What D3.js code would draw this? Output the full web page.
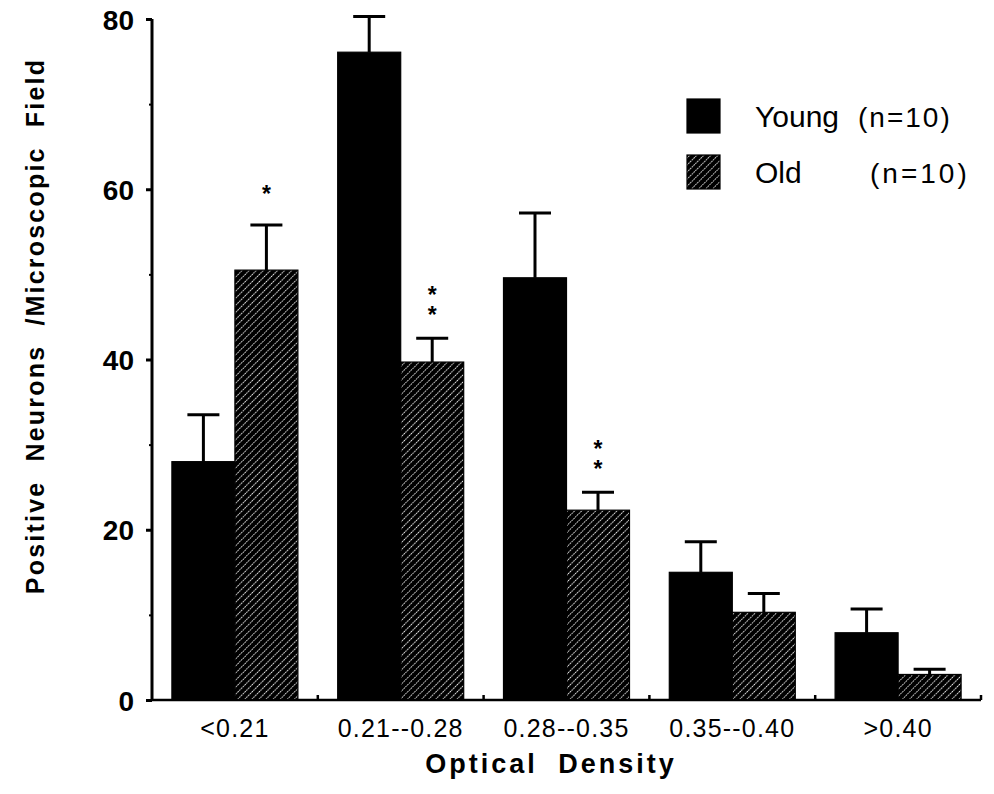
<!DOCTYPE html>
<html>
<head>
<meta charset="utf-8">
<script src="https://cdn.jsdelivr.net/npm/d3@7"></script>
<style>
  body { margin: 0; background: #fff; }
  svg { display: block; font-family: "Liberation Sans", Arial, Helvetica, sans-serif; }
</style>
</head>
<body>
<div id="chart"></div>
<script>
// values
const categories = ["<0.21", "0.21--0.28", "0.28--0.35", "0.35--0.40", ">0.40"];
const groups = ["Young", "Old"];
const youngMeans = [28.0, 76.1, 49.6, 15.0, 7.9];
const youngErrors = [5.5, 4.2, 7.6, 3.6, 2.8];
const oldMeans = [50.5, 39.7, 22.3, 10.3, 3.0];
const oldErrors = [5.3, 2.8, 2.1, 2.2, 0.6];
const significance = ["*", "**", "**", "", ""];
const legendCounts = ["(n=10)", "(n=10)"];
const yTicks = [0, 20, 40, 60, 80];
const yMinorTicks = [10, 30, 50, 70];

const width = 994;
const height = 794;
const margin = { top: 19, right: 13, bottom: 94, left: 152 };

const svg = d3.select("#chart").append("svg")
  .attr("width", width)
  .attr("height", height);

// hatch for the "Old" bars
const defs = svg.append("defs");
const hatch = defs.append("pattern")
  .attr("id", "hatch")
  .attr("patternUnits", "userSpaceOnUse")
  .attr("width", 5)
  .attr("height", 5)
  .attr("patternTransform", "rotate(45)");
hatch.append("rect").attr("width", 5).attr("height", 5).attr("fill", "#000");
hatch.append("line")
  .attr("x1", 2.5).attr("y1", 0).attr("x2", 2.5).attr("y2", 5)
  .attr("stroke", "#fff")
  .attr("stroke-width", 0.9)
  .attr("stroke-dasharray", "1.6 1");

const x = d3.scaleBand()
  .domain(categories)
  .range([margin.left, width - margin.right])
  .paddingInner(0.24)
  .paddingOuter(0.12);

const xSub = d3.scaleBand()
  .domain(groups)
  .range([0, x.bandwidth()]);

const y = d3.scaleLinear()
  .domain([0, 80])
  .range([height - margin.bottom, margin.top]);

const rows = categories.map((c, i) => [
  { cat: c, group: "Young", mean: youngMeans[i], err: youngErrors[i], sig: "" },
  { cat: c, group: "Old", mean: oldMeans[i], err: oldErrors[i], sig: significance[i] }
]).flat();

const fillFor = g => g === "Young" ? "#000" : "url(#hatch)";
const centerOf = d => x(d.cat) + xSub(d.group) + xSub.bandwidth() / 2;

// error bars (drawn first so bars cover the stem bottoms)
const err = svg.append("g").attr("stroke", "#000").attr("stroke-width", 3);
rows.forEach(d => {
  const cx = centerOf(d);
  err.append("line")
    .attr("x1", cx).attr("x2", cx)
    .attr("y1", y(d.mean)).attr("y2", y(d.mean + d.err));
  err.append("line")
    .attr("x1", cx - 16).attr("x2", cx + 16)
    .attr("y1", y(d.mean + d.err)).attr("y2", y(d.mean + d.err));
});

svg.append("g")
  .selectAll("rect")
  .data(rows)
  .join("rect")
  .attr("x", d => x(d.cat) + xSub(d.group))
  .attr("y", d => y(d.mean))
  .attr("width", xSub.bandwidth())
  .attr("height", d => y(0) - y(d.mean))
  .attr("fill", d => fillFor(d.group))
  .attr("stroke", "#000")
  .attr("stroke-width", 1.2);

// significance stars, stacked vertically as one text run
svg.append("g")
  .attr("font-size", 23)
  .attr("font-weight", "bold")
  .selectAll("text")
  .data(rows.filter(d => d.sig))
  .join("text")
  .style("writing-mode", "vertical-rl")
  .style("text-orientation", "upright")
  .attr("letter-spacing", "-6px")
  .attr("text-anchor", "end")
  .attr("x", d => centerOf(d))
  .attr("y", d => y(d.mean + d.err) - (d.sig.length === 1 ? 24 : 16))
  .text(d => d.sig);

// y axis
const yAxis = svg.append("g")
  .attr("transform", `translate(${margin.left},0)`)
  .call(d3.axisLeft(y).tickValues(yTicks).tickSize(6).tickPadding(12));
yAxis.select(".domain").attr("stroke-width", 3).attr("d", `M0,${y(80)}V${y(0)}`);
yAxis.selectAll(".tick line").attr("stroke-width", 3);
yAxis.selectAll(".tick text")
  .attr("font-size", 28)
  .attr("font-weight", "bold")
  .attr("font-family", "Liberation Sans, Arial, sans-serif")
  .attr("dy", "0.36em")
  .attr("fill", "#000");

const yMinor = svg.append("g")
  .attr("transform", `translate(${margin.left},0)`)
  .call(d3.axisLeft(y).tickValues(yMinorTicks).tickSize(3).tickFormat(""));
yMinor.select(".domain").remove();
yMinor.selectAll(".tick line").attr("stroke-width", 2);

// x axis
const xAxis = svg.append("g")
  .attr("transform", `translate(0,${y(0)})`)
  .call(d3.axisBottom(x).tickSize(0).tickPadding(20));
xAxis.select(".domain").attr("stroke-width", 2.5)
  .attr("d", `M${margin.left},0H${width - margin.right}`);
xAxis.selectAll(".tick text")
  .attr("font-size", 25)
  .attr("font-family", "Liberation Sans, Arial, sans-serif")
  .attr("letter-spacing", "1.2px")
  .attr("dy", "0.68em")
  .attr("fill", "#000");

// small upward ticks at the category boundaries
const boundaries = categories.map(c => x(c) + x.bandwidth() + x.step() * x.paddingOuter());
svg.append("g")
  .selectAll("line")
  .data(boundaries)
  .join("line")
  .attr("x1", d => d).attr("x2", d => d)
  .attr("y1", y(0)).attr("y2", y(0) - 5)
  .attr("stroke", "#000")
  .attr("stroke-width", 2.5);

// axis titles
svg.append("text")
  .attr("x", 551)
  .attr("y", 773)
  .attr("text-anchor", "middle")
  .attr("font-size", 27)
  .attr("font-weight", "bold")
  .attr("letter-spacing", "3px")
  .attr("word-spacing", "10px")
  .text("Optical Density");

svg.append("text")
  .attr("transform", `translate(44,${326}) rotate(-90)`)
  .attr("text-anchor", "middle")
  .attr("font-size", 25)
  .attr("font-weight", "bold")
  .attr("letter-spacing", "2.2px")
  .attr("word-spacing", "10px")
  .text("Positive Neurons /Microscopic Field");

// legend
const legend = svg.append("g");
const legendY = [99, 155];
groups.forEach((g, i) => {
  legend.append("rect")
    .attr("x", 687)
    .attr("y", legendY[i])
    .attr("width", 33)
    .attr("height", 34)
    .attr("fill", fillFor(g))
    .attr("stroke", "#000")
    .attr("stroke-width", 1.2);
  legend.append("text")
    .attr("x", 755)
    .attr("y", legendY[i] + 28)
    .attr("font-size", 30)
    .text(g);
  legend.append("text")
    .attr("x", i === 0 ? 858 : 870)
    .attr("y", legendY[i] + 28)
    .attr("font-size", 28)
    .attr("letter-spacing", i === 0 ? "2px" : "3px")
    .text(legendCounts[i]);
});
</script>
</body>
</html>
